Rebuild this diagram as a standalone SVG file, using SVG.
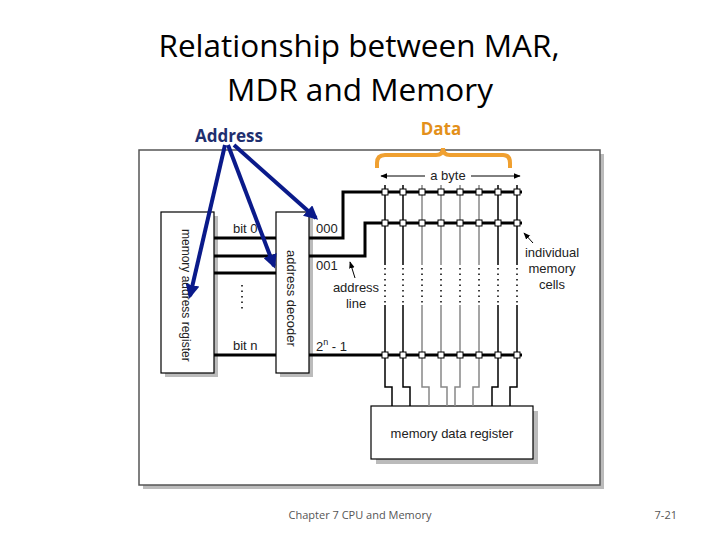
<svg xmlns="http://www.w3.org/2000/svg" width="720" height="540" viewBox="0 0 720 540">
<style>
.t{font-family:"Liberation Sans",Arial,sans-serif;fill:#222}
.w{stroke:#000;stroke-width:3;fill:none}
.c{stroke:#000;stroke-width:1.5;fill:none}
.g{stroke:#888;stroke-width:1.5;fill:none}
.cell{fill:#fff;stroke:#000;stroke-width:1}
.box{fill:#fff;stroke:#000;stroke-width:1.2}
.sh{fill:#bbb}
.blue{stroke:#0a1a8a;stroke-width:4;fill:none;marker-end:url(#ab)}
</style>
<defs>
<marker id="ab" viewBox="0 0 10 10" refX="8" refY="5" markerWidth="3.5" markerHeight="3.5" orient="auto"><path d="M0,0L10,5L0,10z" fill="#0a1a8a"/></marker>
<marker id="ak" viewBox="0 0 10 10" refX="9" refY="5" markerWidth="7" markerHeight="7" orient="auto"><path d="M0,1L10,5L0,9z" fill="#000"/></marker>
</defs>
<rect width="720" height="540" fill="#fff"/>
<text x="359" y="57" text-anchor="middle" font-family="Open Sans,sans-serif" font-size="31.5" fill="#000">Relationship between MAR,</text>
<text x="360" y="101" text-anchor="middle" font-family="Open Sans,sans-serif" font-size="31.5" fill="#000">MDR and Memory</text>
<text x="229" y="142" text-anchor="middle" font-family="Open Sans,sans-serif" font-size="17" font-weight="bold" fill="#1f2f6f">Address</text>
<text x="441" y="135" text-anchor="middle" font-family="Open Sans,sans-serif" font-size="17" font-weight="bold" fill="#e3901a">Data</text>
<g id="frame"><rect x="143" y="154" width="461" height="335" class="sh"/><rect x="139" y="150" width="461" height="335" fill="#fff" stroke="#555" stroke-width="1.5"/></g>
<g id="mar"><rect x="165" y="216" width="53" height="161" class="sh"/><rect x="161" y="212" width="53" height="161" class="box"/>
<text class="t" font-size="12" transform="translate(182,229) rotate(90)">memory address register</text></g>
<g id="decoder"><rect x="280" y="216" width="33" height="161" class="sh"/><rect x="276" y="212" width="33" height="161" class="box"/>
<text class="t" font-size="13" transform="translate(287,250) rotate(90)">address decoder</text></g>
<g id="mdr"><rect x="376" y="411" width="162" height="53" class="sh"/><rect x="371" y="406" width="162" height="53" class="box"/>
<text class="t" font-size="13" x="452" y="438" text-anchor="middle">memory data register</text></g>
<g id="connectors">
<path class="w" d="M214,238H276M214,256H276M214,273H276M214,355H276"/>
<path class="w" d="M309,238H343V192H522M309,256H365V223H522M309,355H522"/>
<g class="c">
<path d="M385,185V265M385,305V387H392V406"/>
<path d="M403,185V265M403,305V387H410V406"/>
<path d="M498,185V265M498,305V387H492V406"/>
<path d="M517,185V265M517,305V387H510V406"/>
</g>
<g class="g">
<path d="M422,185V265M422,305V387H429V406"/>
<path d="M441,185V265M441,305V387H447V406"/>
<path d="M460,185V265M460,305V387H455V406"/>
<path d="M479,185V265M479,305V387H473V406"/>
</g>
<g fill="none" stroke="#000" stroke-width="1.5" stroke-dasharray="1.5,4">
<path d="M385,268V305M403,268V305M422,268V305M441,268V305M460,268V305M479,268V305M498,268V305M517,268V305M242,285V312"/>
</g>
<g id="cells">
<g class="cell">
<rect x="382" y="189" width="6" height="6"/><rect x="400" y="189" width="6" height="6"/><rect x="419" y="189" width="6" height="6"/><rect x="438" y="189" width="6" height="6"/><rect x="457" y="189" width="6" height="6"/><rect x="476" y="189" width="6" height="6"/><rect x="495" y="189" width="6" height="6"/><rect x="514" y="189" width="6" height="6"/>
<rect x="382" y="220" width="6" height="6"/><rect x="400" y="220" width="6" height="6"/><rect x="419" y="220" width="6" height="6"/><rect x="438" y="220" width="6" height="6"/><rect x="457" y="220" width="6" height="6"/><rect x="476" y="220" width="6" height="6"/><rect x="495" y="220" width="6" height="6"/><rect x="514" y="220" width="6" height="6"/>
<rect x="382" y="352" width="6" height="6"/><rect x="400" y="352" width="6" height="6"/><rect x="419" y="352" width="6" height="6"/><rect x="438" y="352" width="6" height="6"/><rect x="457" y="352" width="6" height="6"/><rect x="476" y="352" width="6" height="6"/><rect x="495" y="352" width="6" height="6"/><rect x="514" y="352" width="6" height="6"/>
</g></g>
<path d="M425,176H381" stroke="#000" stroke-width="1" marker-end="url(#ak)"/>
<path d="M471,176H520" stroke="#000" stroke-width="1" marker-end="url(#ak)"/>
<path d="M355,278L350,262" stroke="#000" stroke-width="1" marker-end="url(#ak)"/>
<path d="M533,243L524,233" stroke="#000" stroke-width="1" marker-end="url(#ak)"/>
<path d="M377,168V163Q377,155 385,155H436Q443,155 443,148Q443,155 450,155H503Q510,155 510,163V168" stroke="#f0a030" stroke-width="4" fill="none"/>
<path class="blue" d="M225,145L190,296"/>
<path class="blue" d="M228,145L274,266"/>
<path class="blue" d="M234,145L316,218"/>
</g>
<g id="labels" class="t" font-size="13">
<text x="448" y="180" text-anchor="middle">a byte</text>
<text x="233" y="233">bit 0</text>
<text x="233" y="350">bit n</text>
<text x="316" y="233">000</text>
<text x="316" y="270">001</text>
<text x="316" y="351">2<tspan font-size="9" dy="-6">n</tspan><tspan dy="6"> - 1</tspan></text>
<text x="356" y="292" text-anchor="middle">address</text>
<text x="356" y="308" text-anchor="middle">line</text>
<text x="552" y="257" text-anchor="middle">individual</text>
<text x="552" y="273" text-anchor="middle">memory</text>
<text x="552" y="289" text-anchor="middle">cells</text>
</g>
<text x="360" y="519" text-anchor="middle" font-family="Open Sans,sans-serif" font-size="11" fill="#555">Chapter 7 CPU and Memory</text>
<text x="677" y="519" text-anchor="end" font-family="Open Sans,sans-serif" font-size="11" fill="#555">7-21</text>
</svg>
